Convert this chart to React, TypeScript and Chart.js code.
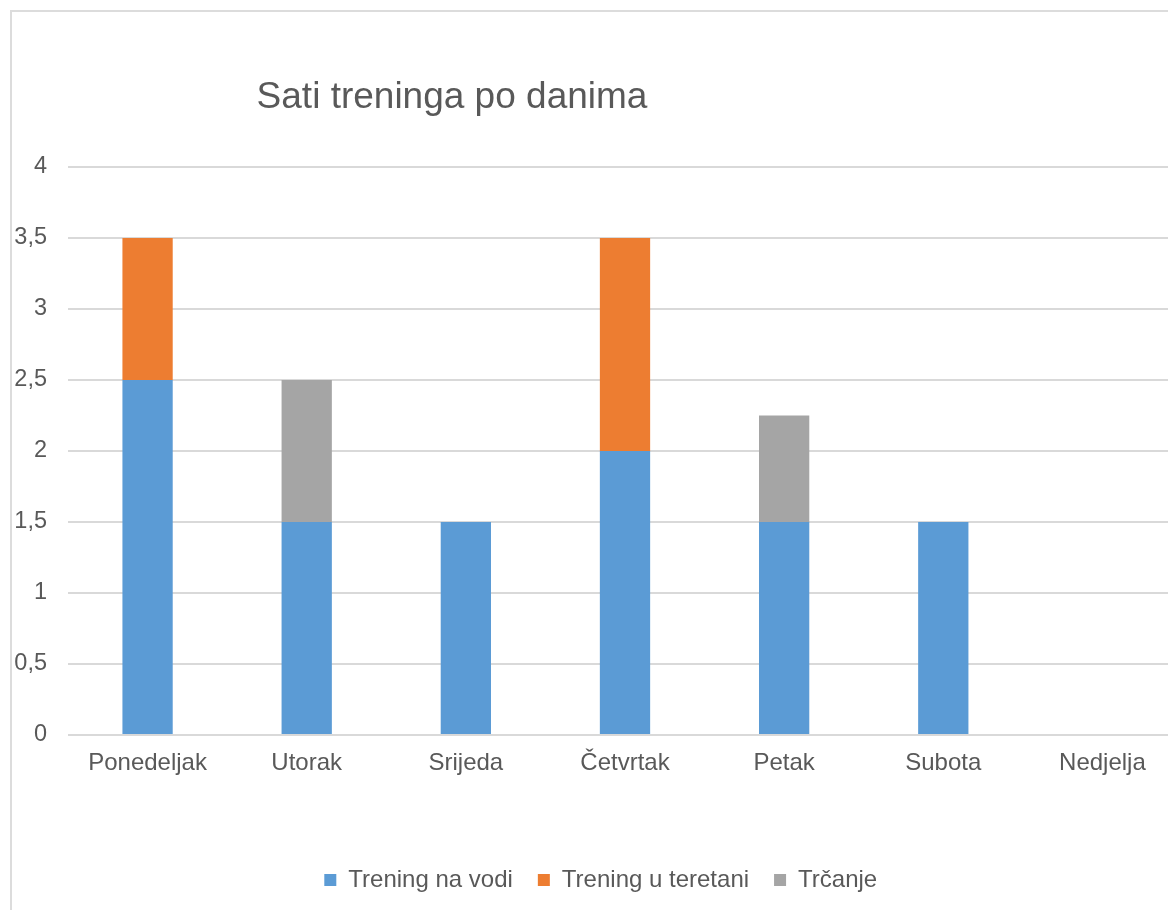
import React, { useEffect, useRef } from "react";
import { Chart, registerables } from "chart.js";

Chart.register(...registerables);

const title = "Sati treninga po danima";
const days = ["Ponedeljak", "Utorak", "Srijeda", "Četvrtak", "Petak", "Subota", "Nedjelja"];
const treningNaVodi = [2.5, 1.5, 1.5, 2, 1.5, 1.5, 0];
const treningUTeretani = [1, 0, 0, 1.5, 0, 0, 0];
const trcanje = [0, 1, 0, 0, 0.75, 0, 0];
const seriesNames = ["Trening na vodi", "Trening u teretani", "Trčanje"];
const seriesColors = ["#5B9BD5", "#ED7D31", "#A5A5A5"];
const yTickLabels = ["0", "0,5", "1", "1,5", "2", "2,5", "3", "3,5", "4"];

const FONT = "'Liberation Sans', Arial, sans-serif";
const TEXT = "#595959";

export default function App() {
  const ref = useRef<HTMLCanvasElement | null>(null);

  useEffect(() => {
    if (!ref.current) return;
    const shiftPlugin = {
      id: "shiftPlugin",
      afterLayout(chart: any) {
        if (chart.titleBlock) {
          chart.titleBlock.left = 0;
          chart.titleBlock.right = 904;
        }
        if (chart.legend) {
          chart.legend.left += 9.75;
          chart.legend.right += 9.75;
        }
      },
    };
    const chart = new Chart(ref.current, {
      type: "bar",
      data: {
        labels: days,
        datasets: [
          { label: seriesNames[0], data: treningNaVodi, backgroundColor: seriesColors[0] },
          { label: seriesNames[1], data: treningUTeretani, backgroundColor: seriesColors[1] },
          { label: seriesNames[2], data: trcanje, backgroundColor: seriesColors[2] },
        ],
      },
      plugins: [shiftPlugin],
      options: {
        responsive: false,
        animation: false,
        devicePixelRatio: 1,
        datasets: { bar: { categoryPercentage: 1, barPercentage: 0.316, borderWidth: 0 } },
        layout: { padding: { left: 0, right: 18, top: 0, bottom: 8 } },
        plugins: {
          title: {
            display: true,
            text: title,
            color: TEXT,
            font: { family: FONT, size: 37, weight: "normal" },
            padding: { top: 75.8, bottom: 46.8 },
          },
          legend: {
            position: "bottom",
            labels: {
              color: TEXT,
              font: { family: FONT, size: 24 },
              boxWidth: 12,
              boxHeight: 12,
              padding: 25,
            },
          },
          tooltip: { enabled: false },
        },
        scales: {
          x: {
            stacked: true,
            grid: { display: false, drawTicks: false },
            border: { display: false },
            ticks: { color: TEXT, font: { family: FONT, size: 24 }, padding: 14, maxRotation: 0 },
            afterFit: (s: any) => {
              s.height = 108;
            },
          },
          y: {
            stacked: true,
            min: 0,
            max: 4,
            grid: { color: "#d9d9d9", lineWidth: 2, drawTicks: false },
            border: { display: false },
            ticks: {
              stepSize: 0.5,
              color: TEXT,
              font: { family: FONT, size: 23.5 },
              padding: 21,
              callback: (_v: any, i: number) => yTickLabels[i],
            },
            afterFit: (s: any) => {
              s.width = 68;
            },
          },
        },
      },
    });
    return () => chart.destroy();
  }, []);

  return (
    <div
      style={{
        position: "fixed",
        left: 0,
        top: 0,
        width: 1168,
        height: 910,
        overflow: "hidden",
        background: "#fff",
      }}
    >
      <canvas ref={ref} width={1200} height={910} style={{ position: "absolute", left: 0, top: 0, width: 1200, height: 910 }} />
      <div
        style={{
          position: "absolute",
          left: 10,
          top: 10,
          width: 1300,
          height: 1000,
          border: "2px solid #dcdcdc",
          pointerEvents: "none",
        }}
      />
    </div>
  );
}
